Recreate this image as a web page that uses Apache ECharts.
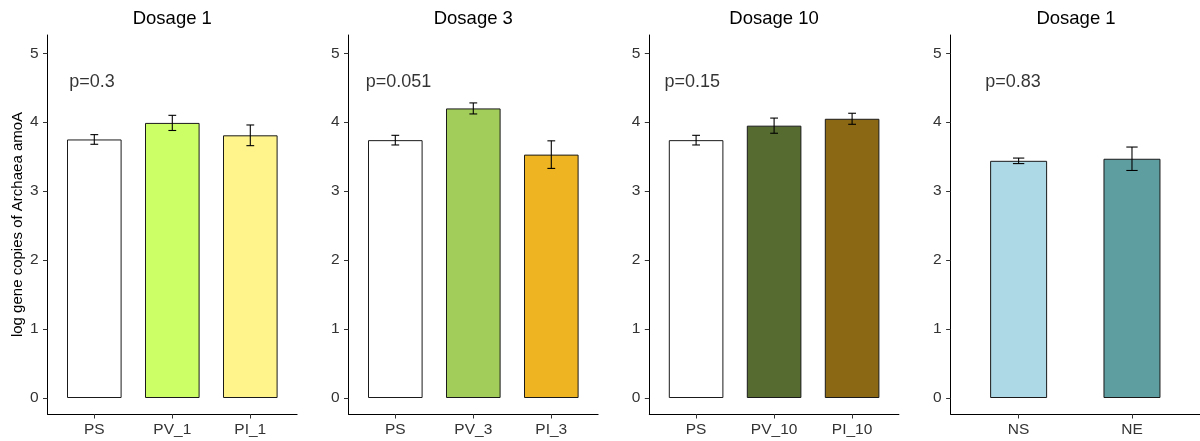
<!DOCTYPE html>
<html>
<head>
<meta charset="utf-8">
<script src="https://cdn.jsdelivr.net/npm/echarts@6/dist/echarts.min.js"></script>
<style>
html,body{margin:0;padding:0;background:#fff;}
#chart{width:1200px;height:441px;}
</style>
</head>
<body>
<div id="chart"></div>
<script>
// ---- data ----
const panelTitles = ['Dosage 1', 'Dosage 3', 'Dosage 10', 'Dosage 1'];
const categories1 = ['PS', 'PV_1', 'PI_1'];
const categories2 = ['PS', 'PV_3', 'PI_3'];
const categories3 = ['PS', 'PV_10', 'PI_10'];
const categories4 = ['NS', 'NE'];
const means1 = [3.75, 3.99, 3.81];
const means2 = [3.74, 4.20, 3.53];
const means3 = [3.74, 3.95, 4.05];
const means4 = [3.44, 3.47];
const errors1 = [0.07, 0.11, 0.15];
const errors2 = [0.07, 0.08, 0.20];
const errors3 = [0.07, 0.11, 0.08];
const errors4 = [0.04, 0.17];
const pLabels = ['p=0.3', 'p=0.051', 'p=0.15', 'p=0.83'];
const pLabelX = [0.97, 1.04, 0.95, 0.95];
const pLabelY = 4.58;
const yTicks = [0, 1, 2, 3, 4, 5];
const yAxisTitle = 'log gene copies of Archaea amoA';

// ---- styles / layout ----
const colors1 = ['#FFFFFF', '#CCFF66', '#FFF38C'];
const colors2 = ['#FFFFFF', '#A2CD5A', '#EEB422'];
const colors3 = ['#FFFFFF', '#556B2F', '#8B6914'];
const colors4 = ['#ADD8E6', '#5F9EA0'];
const FONT = 'Arial, "Liberation Sans", sans-serif';

const panels = [
  {cats: categories1, means: means1, errs: errors1, cols: colors1, left: 47.5, bw: 0.7},
  {cats: categories2, means: means2, errs: errors2, cols: colors2, left: 348.5, bw: 0.7},
  {cats: categories3, means: means3, errs: errors3, cols: colors3, left: 649.3, bw: 0.7},
  {cats: categories4, means: means4, errs: errors4, cols: colors4, left: 950.6, bw: 0.5}
];
const unitPx3 = 78, unitPx2 = 114;
const gridTop = 35, gridHeight = 379;

const grid = [], xAxis = [], yAxis = [], series = [], title = [];

panels.forEach((p, i) => {
  const n = p.cats.length;
  const unitPx = n === 3 ? unitPx3 : unitPx2;
  const width = (n + 0.2) * unitPx;
  grid.push({left: p.left, top: gridTop, width: width, height: gridHeight, containLabel: false});
  title.push({
    text: panelTitles[i],
    left: p.left + width / 2,
    top: 9,
    padding: 0,
    textAlign: 'center',
    textStyle: {fontFamily: FONT, fontSize: 18.5, fontWeight: 'normal', color: '#000'}
  });
  const catValues = p.cats.map((c, k) => k + 1);
  xAxis.push({
    type: 'value', gridIndex: i, min: 0.4, max: n + 0.6,
    splitLine: {show: false},
    axisLine: {show: true, onZero: false, lineStyle: {color: '#000', width: 1}},
    axisTick: {show: true, customValues: catValues, length: 4.5, lineStyle: {color: '#333'}},
    axisLabel: {
      show: true, customValues: catValues, margin: 8,
      fontFamily: FONT, fontSize: 15.5, color: '#333'
      , formatter: v => p.cats[Math.round(v) - 1] || ''
    }
  });
  yAxis.push({
    type: 'value', gridIndex: i, min: -0.232, max: 5.265,
    splitLine: {show: false},
    axisLine: {show: true, onZero: false, lineStyle: {color: '#000', width: 1}},
    axisTick: {show: true, customValues: yTicks, length: 4.5, lineStyle: {color: '#333'}},
    axisLabel: {show: true, customValues: yTicks, margin: 9, fontFamily: FONT, fontSize: 15.5, color: '#333'},
    name: i === 0 ? yAxisTitle : '',
    nameLocation: 'middle',
    nameGap: 22,
    nameRotate: 90,
    nameTextStyle: {fontFamily: FONT, fontSize: 15, color: '#000'}
  });
  series.push({
    type: 'bar', xAxisIndex: i, yAxisIndex: i,
    barWidth: p.bw * unitPx,
    data: p.means.map((m, k) => ({value: [k + 1, m], itemStyle: {color: p.cols[k]}})),
    itemStyle: {borderColor: '#1a1a1a', borderWidth: 1},
    animation: false,
    silent: true
  });
  series.push({
    type: 'custom', xAxisIndex: i, yAxisIndex: i,
    data: p.means.map((m, k) => [k + 1, m - p.errs[k], m + p.errs[k]]),
    renderItem: (params, api) => {
      const x = api.value(0), lo = api.value(1), hi = api.value(2);
      const hw = 0.05;
      const a = api.coord([x, hi]), b = api.coord([x, lo]);
      const l1 = api.coord([x - hw, hi]), r1 = api.coord([x + hw, hi]);
      const l2 = api.coord([x - hw, lo]), r2 = api.coord([x + hw, lo]);
      const st = {stroke: '#000', lineWidth: 1.1};
      return {type: 'group', children: [
        {type: 'line', shape: {x1: a[0], y1: a[1], x2: b[0], y2: b[1]}, style: st},
        {type: 'line', shape: {x1: l1[0], y1: l1[1], x2: r1[0], y2: r1[1]}, style: st},
        {type: 'line', shape: {x1: l2[0], y1: l2[1], x2: r2[0], y2: r2[1]}, style: st}
      ]};
    },
    z: 5, animation: false, silent: true
  });
  series.push({
    type: 'scatter', xAxisIndex: i, yAxisIndex: i,
    symbolSize: 0,
    data: [[pLabelX[i], pLabelY]],
    label: {show: true, position: 'inside', formatter: pLabels[i], fontFamily: FONT, fontSize: 18, color: '#000'},
    animation: false, silent: true
  });
});

const chart = echarts.init(document.getElementById('chart'), null, {renderer: 'canvas'});
chart.setOption({
  backgroundColor: '#fff',
  animation: false,
  title: title,
  grid: grid,
  xAxis: xAxis,
  yAxis: yAxis,
  series: series
});
</script>
</body>
</html>
